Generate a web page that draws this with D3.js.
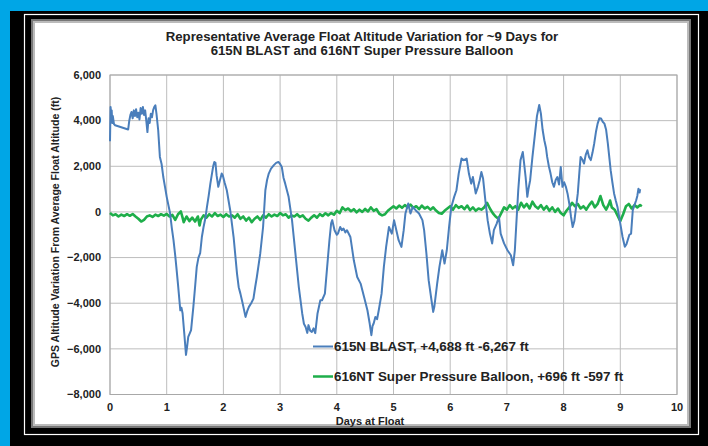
<!DOCTYPE html>
<html>
<head>
<meta charset="utf-8">
<script src="https://cdn.jsdelivr.net/npm/d3@7"></script>
<style>
  html, body { margin: 0; padding: 0; background: #00a6e6; }
  svg { display: block; font-family: "Liberation Sans", Arial, sans-serif; }
</style>
</head>
<body>
<div id="chart"></div>
<script>
// Chart data (days at float, ft from average float altitude)
const titleLines = [
  "Representative Average Float Altitude Variation for ~9 Days for",
  "615N BLAST and 616NT Super Pressure Balloon"
];
const xTicks = [0, 1, 2, 3, 4, 5, 6, 7, 8, 9, 10];
const yTicks = [-8000, -6000, -4000, -2000, 0, 2000, 4000, 6000];
const legendLabels = [
  "615N BLAST, +4,688 ft -6,267 ft",
  "616NT Super Pressure Balloon, +696 ft -597 ft"
];

const blast = [
  [0.00, 3100], [0.01, 4600], [0.02, 4300], [0.03, 4450], [0.04, 3900], [0.05, 4200],
  [0.07, 3850], [0.09, 3800], [0.32, 3610], [0.34, 4000], [0.36, 4250], [0.38, 4380],
  [0.40, 4100], [0.42, 4450], [0.44, 4200], [0.46, 4500], [0.48, 4150], [0.50, 4350],
  [0.52, 4050], [0.54, 4550], [0.56, 4300], [0.58, 4600], [0.60, 4250], [0.62, 4450],
  [0.64, 4000], [0.66, 3500], [0.68, 4100], [0.70, 3900], [0.72, 4300], [0.74, 4150],
  [0.76, 4450], [0.78, 4600], [0.80, 4675], [0.82, 4300], [0.85, 3580], [0.88, 2410],
  [0.91, 2100], [0.94, 1530], [0.97, 1100], [1.00, 660], [1.03, 300], [1.06, -60],
  [1.09, -700], [1.12, -1240], [1.15, -1900], [1.17, -2410], [1.20, -3200], [1.24, -4310],
  [1.26, -4200], [1.28, -4440], [1.31, -5320], [1.34, -6267], [1.36, -5900], [1.38, -5480],
  [1.41, -5300], [1.43, -5180], [1.47, -4160], [1.50, -3300], [1.53, -2410], [1.56, -2000],
  [1.59, -1810], [1.62, -1100], [1.65, -660], [1.68, -300], [1.71, 220], [1.74, 700],
  [1.77, 1240], [1.80, 1700], [1.82, 2000], [1.84, 2190], [1.86, 2150], [1.88, 1600],
  [1.91, 1100], [1.94, 1400], [1.97, 1680], [1.99, 1600], [2.02, 1300], [2.06, 950],
  [2.12, 75], [2.18, -1100], [2.24, -2700], [2.27, -3300], [2.30, -3580], [2.34, -4010],
  [2.39, -4600], [2.42, -4350], [2.45, -4160], [2.49, -4000], [2.53, -3800], [2.56, -3300],
  [2.59, -2850], [2.65, -1820], [2.70, -660], [2.74, 950], [2.77, 1400], [2.80, 1680],
  [2.84, 1900], [2.89, 2050], [2.93, 2150], [2.97, 2190], [3.00, 2100], [3.03, 1970],
  [3.06, 1500], [3.09, 1240], [3.15, 660], [3.21, -360], [3.27, -1820], [3.33, -3290],
  [3.39, -4450], [3.42, -4900], [3.45, -5040], [3.48, -5300], [3.50, -4960], [3.53, -5200],
  [3.56, -5260], [3.59, -5100], [3.62, -5310], [3.66, -4450], [3.71, -3870], [3.74, -3870],
  [3.79, -3580], [3.83, -2410], [3.87, -1240], [3.90, -500], [3.92, -360], [3.96, -800],
  [4.00, -1000], [4.02, -950], [4.06, -660], [4.09, -800], [4.12, -730], [4.15, -900],
  [4.18, -800], [4.24, -1100], [4.30, -2120], [4.36, -2850], [4.42, -3140], [4.48, -3720],
  [4.54, -4310], [4.58, -4890], [4.61, -5400], [4.63, -5000], [4.65, -4890], [4.68, -4600],
  [4.71, -4700], [4.74, -4310], [4.79, -3580], [4.83, -2410], [4.87, -1530], [4.92, -660],
  [4.97, -950], [5.01, -360], [5.05, -800], [5.09, -1240], [5.14, -1530], [5.18, -800],
  [5.21, -70], [5.26, 370], [5.30, -70], [5.34, 220], [5.39, 75], [5.45, -70],
  [5.51, -360], [5.54, -800], [5.58, -1810], [5.62, -2990], [5.67, -3870], [5.70, -4380],
  [5.72, -4160], [5.77, -3140], [5.81, -2410], [5.86, -1680], [5.90, -2260], [5.94, -1680],
  [5.98, -660], [6.02, 220], [6.07, 660], [6.11, 950], [6.15, 1680], [6.20, 2340],
  [6.24, 2270], [6.29, 2340], [6.33, 1680], [6.37, 1240], [6.40, 1530], [6.45, 810],
  [6.49, 1100], [6.52, 1390], [6.55, 1750], [6.58, 1460], [6.62, 510], [6.66, -360],
  [6.70, -950], [6.74, -1380], [6.77, -800], [6.82, -510], [6.86, -220], [6.89, -950],
  [6.95, -1380], [7.01, -1680], [7.07, -1900], [7.11, -2340], [7.14, -1680], [7.17, -360],
  [7.20, 950], [7.24, 2270], [7.28, 2630], [7.30, 2200], [7.33, 1530], [7.36, 660],
  [7.38, 1000], [7.41, 1390], [7.45, 2400], [7.49, 3300], [7.53, 4200], [7.57, 4688],
  [7.60, 4300], [7.63, 3600], [7.66, 3140], [7.69, 2800], [7.71, 2410], [7.74, 2000],
  [7.77, 1680], [7.80, 1300], [7.83, 1100], [7.86, 1400], [7.89, 1530], [7.92, 1200],
  [7.95, 1970], [7.98, 1100], [8.01, 1300], [8.04, 1100], [8.07, 800], [8.10, 370],
  [8.13, -200], [8.16, -660], [8.19, -400], [8.22, 200], [8.25, 810], [8.28, 1800],
  [8.30, 2410], [8.33, 2300], [8.36, 2120], [8.39, 2500], [8.42, 2700], [8.45, 2400],
  [8.48, 2270], [8.51, 2600], [8.54, 3000], [8.57, 3500], [8.60, 3870], [8.63, 4100],
  [8.66, 4090], [8.69, 3950], [8.72, 3870], [8.75, 3600], [8.78, 3000], [8.81, 2300],
  [8.83, 1830], [8.86, 1300], [8.89, 810], [8.92, 500], [8.95, 220], [9.00, -510],
  [9.04, -1100], [9.08, -1530], [9.11, -1400], [9.13, -1240], [9.16, -1000], [9.19, -950],
  [9.22, 75], [9.25, 300], [9.28, 510], [9.30, 700], [9.32, 1020], [9.34, 850], [9.35, 1000]
];

const spb = [
  [0.00, -50], [0.05, -150], [0.10, -100], [0.15, -200], [0.20, -120], [0.25, -180],
  [0.30, -100], [0.35, -170], [0.40, -90], [0.45, -200], [0.50, -300], [0.55, -420],
  [0.60, -350], [0.65, -200], [0.70, -150], [0.75, -220], [0.80, -120], [0.85, -180],
  [0.90, -100], [0.95, -160], [1.00, -90], [1.05, -200], [1.10, -130], [1.15, -350],
  [1.20, -100], [1.25, 20], [1.28, -250], [1.30, -450], [1.35, -200], [1.40, -400],
  [1.45, -250], [1.50, -420], [1.55, -200], [1.58, -597], [1.60, -350], [1.65, -150],
  [1.70, -250], [1.75, -100], [1.80, -200], [1.85, -50], [1.90, -180], [1.95, -120],
  [2.00, -220], [2.05, -100], [2.10, -200], [2.15, -150], [2.20, -250], [2.25, -100],
  [2.30, -300], [2.35, -200], [2.40, -380], [2.45, -250], [2.50, -450], [2.55, -300],
  [2.60, -200], [2.65, -350], [2.70, -150], [2.75, -250], [2.80, -100], [2.85, -200],
  [2.90, -120], [2.95, -180], [3.00, -50], [3.05, -150], [3.10, -100], [3.15, -250],
  [3.20, -150], [3.25, -200], [3.30, -100], [3.35, -220], [3.40, -150], [3.45, -300],
  [3.50, -380], [3.55, -250], [3.60, -150], [3.65, -250], [3.70, -100], [3.75, -180],
  [3.80, -60], [3.85, -150], [3.90, -50], [3.95, -120], [4.00, 50], [4.05, -50],
  [4.10, 200], [4.15, 80], [4.20, 150], [4.25, 30], [4.30, 120], [4.35, -20],
  [4.40, 100], [4.45, 0], [4.50, 130], [4.55, 20], [4.60, 200], [4.65, 50],
  [4.70, 120], [4.75, -80], [4.80, -150], [4.85, -100], [4.90, 50], [4.95, 150],
  [5.00, 250], [5.05, 150], [5.10, 280], [5.15, 180], [5.20, 300], [5.25, 200],
  [5.30, 320], [5.35, 180], [5.40, 250], [5.45, 120], [5.50, 280], [5.55, 150],
  [5.60, 220], [5.65, 100], [5.70, 200], [5.75, 60], [5.80, -50], [5.85, -80],
  [5.90, 50], [5.95, 150], [6.00, 250], [6.05, 100], [6.10, 300], [6.15, 180],
  [6.20, 250], [6.25, 120], [6.30, 280], [6.35, 80], [6.40, 200], [6.45, 50],
  [6.50, 150], [6.55, 100], [6.60, 200], [6.65, 400], [6.70, 150], [6.75, -50],
  [6.80, -200], [6.85, -300], [6.90, -50], [6.95, 200], [7.00, 100], [7.05, 300],
  [7.10, 150], [7.15, 250], [7.20, 100], [7.25, 400], [7.30, 200], [7.35, 350],
  [7.40, 150], [7.45, 450], [7.50, 250], [7.55, 150], [7.60, 300], [7.65, 100],
  [7.70, 250], [7.75, 50], [7.80, 200], [7.85, 0], [7.90, 150], [7.95, -50],
  [8.00, -150], [8.05, 50], [8.10, 200], [8.15, 400], [8.20, 250], [8.25, 350],
  [8.30, 150], [8.35, 250], [8.40, 100], [8.45, 300], [8.50, 450], [8.55, 200],
  [8.60, 350], [8.65, 696], [8.70, 300], [8.75, 100], [8.80, 350], [8.82, 500],
  [8.85, 200], [8.90, 100], [8.95, -150], [9.00, -400], [9.05, -100], [9.10, 250],
  [9.15, 350], [9.20, 150], [9.25, 300], [9.30, 200], [9.35, 300], [9.38, 250]
];

const W = 708, H = 446;
const plot = { left: 110, right: 677, top: 75, bottom: 394.5 };

const svg = d3.select("#chart").append("svg").attr("width", W).attr("height", H);

// Slide frame: blue background, black frame, white panel
svg.append("rect").attr("width", W).attr("height", H).attr("fill", "#00a6e6");
svg.append("rect").attr("x", 10).attr("y", 11).attr("width", W - 10).attr("height", H - 11).attr("fill", "#000");
svg.append("rect").attr("x", 24.5).attr("y", 14.5).attr("width", 674).attr("height", 420)
  .attr("fill", "none").attr("stroke", "#fff").attr("stroke-width", 1.2);
svg.append("rect").attr("x", 31).attr("y", 19).attr("width", 660).attr("height", 409).attr("fill", "#777");
svg.append("rect").attr("x", 33).attr("y", 21).attr("width", 656).attr("height", 405).attr("fill", "#bbb");
svg.append("rect").attr("x", 35).attr("y", 23).attr("width", 652).attr("height", 401).attr("fill", "#fff");

const x = d3.scaleLinear().domain([0, 10]).range([plot.left, plot.right]);
const y = d3.scaleLinear().domain([-8000, 6000]).range([plot.bottom, plot.top]);

// Gridlines
const g = svg.append("g");
g.selectAll(".vgrid").data(xTicks).enter().append("line")
  .attr("x1", d => x(d)).attr("x2", d => x(d))
  .attr("y1", plot.top).attr("y2", plot.bottom)
  .attr("stroke", "#bdbdbd").attr("stroke-width", 1);
g.selectAll(".hgrid").data(yTicks).enter().append("line")
  .attr("x1", plot.left).attr("x2", plot.right)
  .attr("y1", d => y(d)).attr("y2", d => y(d))
  .attr("stroke", "#bdbdbd").attr("stroke-width", 1);
g.append("rect").attr("x", plot.left).attr("y", plot.top)
  .attr("width", plot.right - plot.left).attr("height", plot.bottom - plot.top)
  .attr("fill", "none").attr("stroke", "#a8a8a8").attr("stroke-width", 1);

// Tick labels
svg.selectAll(".ylab").data(yTicks).enter().append("text")
  .attr("x", 101).attr("y", d => y(d)).attr("dy", "0.35em")
  .attr("text-anchor", "end").attr("font-size", "11px").attr("font-weight", "bold")
  .attr("fill", "#222").text(d => d3.format(",")(d));
svg.selectAll(".xlab").data(xTicks).enter().append("text")
  .attr("x", d => x(d)).attr("y", 411)
  .attr("text-anchor", "middle").attr("font-size", "11px").attr("font-weight", "bold")
  .attr("fill", "#222").text(d => d);

// Axis titles
svg.append("text").attr("x", 370).attr("y", 425)
  .attr("text-anchor", "middle").attr("font-size", "11px").attr("font-weight", "bold")
  .attr("fill", "#222").text("Days at Float");
svg.append("text")
  .attr("transform", "translate(59,232) rotate(-90)")
  .attr("text-anchor", "middle").attr("font-size", "10.5px").attr("font-weight", "bold")
  .attr("fill", "#222").text("GPS Altitude Variation From Average Float Altitude (ft)");

// Title
svg.selectAll(".title").data(titleLines).enter().append("text")
  .attr("x", 362).attr("y", (d, i) => 41 + i * 14)
  .attr("text-anchor", "middle").attr("font-size", "13.2px").attr("font-weight", "bold")
  .attr("fill", "#222").text(d => d);

// Series lines
const line = d3.line().x(d => x(d[0])).y(d => y(d[1]));
svg.append("path").datum(spb).attr("d", line)
  .attr("fill", "none").attr("stroke", "#1eae4a").attr("stroke-width", 2.6).attr("stroke-linejoin", "round");
svg.append("path").datum(blast).attr("d", line)
  .attr("fill", "none").attr("stroke", "#4a7ebb").attr("stroke-width", 2).attr("stroke-linejoin", "round");

// Legend
const legendColors = ["#4a7ebb", "#1eae4a"];
const leg = svg.selectAll(".leg").data(legendLabels).enter().append("g")
  .attr("transform", (d, i) => `translate(313,${346.5 + i * 30})`);
leg.append("line").attr("x1", 0).attr("x2", 20).attr("y1", 0).attr("y2", 0)
  .attr("stroke", (d, i) => legendColors[i]).attr("stroke-width", (d, i) => i ? 2.5 : 2);
leg.append("text").attr("x", 21).attr("dy", "0.35em")
  .attr("font-size", "13.4px").attr("font-weight", "bold").attr("fill", "#222").text(d => d);
</script>
</body>
</html>
